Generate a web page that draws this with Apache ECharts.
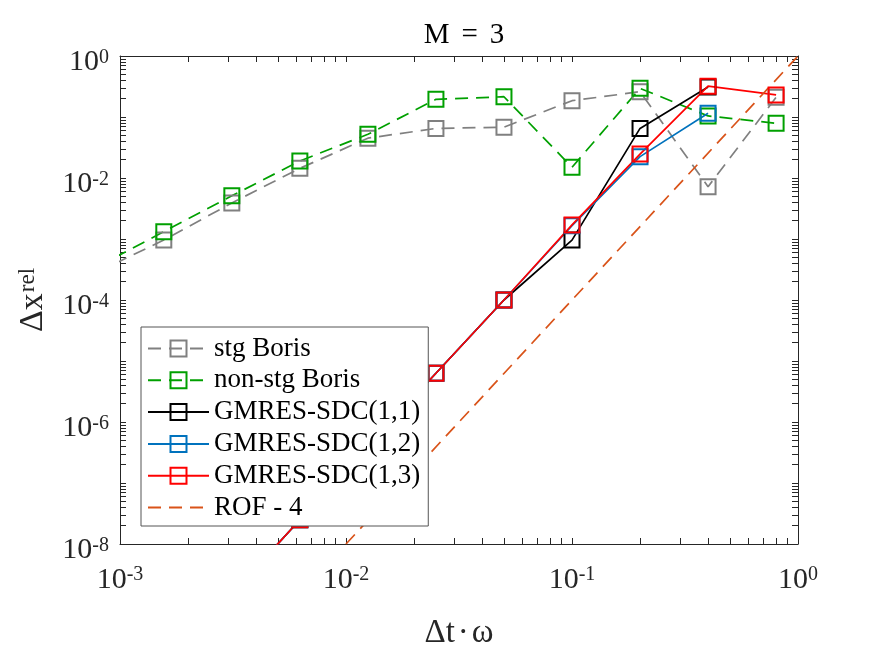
<!DOCTYPE html>
<html lang="en">
<head>
  <meta charset="UTF-8" />
  <title>M = 3</title>
  <script src="https://cdn.jsdelivr.net/npm/echarts@6/dist/echarts.min.js"></script>
  <style>
    html, body { margin: 0; padding: 0; background: #fff; }
    #chart { width: 875px; height: 657px; }
  </style>
</head>
<body>
  <div id="chart"></div>
  <script>
    // step sizes (dt * omega)
    const dtBoris = [0.00078125, 0.0015625, 0.003125, 0.00625, 0.0125, 0.025, 0.05, 0.1, 0.2, 0.4, 0.8];
    const dtSdc = [0.003125, 0.00625, 0.0125, 0.025, 0.05, 0.1, 0.2, 0.4];
    const dtSdc3 = [0.003125, 0.00625, 0.0125, 0.025, 0.05, 0.1, 0.2, 0.4, 0.8];
    const dtRof = [0.01, 0.1, 1];

    // relative position error
    const errStg    = [2.8e-4, 9.6e-4, 3.9e-3, 1.44e-2, 4.5e-2, 6.5e-2, 6.8e-2, 0.185, 0.26, 0.0072, 0.21];
    const errNonStg = [3.4e-4, 1.32e-3, 5.1e-3, 1.9e-2, 5.2e-2, 0.195, 0.215, 0.015, 0.295, 0.104, 0.079];
    const errSdc11  = [1.5e-9, 2.5e-8, 4e-7, 6.3e-6, 1.0e-4, 9.6e-4, 0.065, 0.31];
    const errSdc12  = [1.5e-9, 2.5e-8, 4e-7, 6.3e-6, 1.0e-4, 1.65e-3, 0.0224, 0.115];
    const errSdc13  = [1.5e-9, 2.5e-8, 4e-7, 6.3e-6, 1.0e-4, 1.7e-3, 0.0247, 0.32, 0.23];
    const errRof    = [1e-8, 1e-4, 1];

    // axis ticks
    const xMajor = [1e-3, 1e-2, 1e-1, 1];
    const yMajor = [1e-8, 1e-6, 1e-4, 1e-2, 1];
    const mult = [1, 2, 3, 4, 5, 6, 7, 8, 9];
    function logTicks(lo, hi) {
      const out = [];
      for (let e = lo; e < hi; e++) mult.forEach(m => out.push(m * Math.pow(10, e)));
      out.push(Math.pow(10, hi));
      return out;
    }
    const xTicks = logTicks(-3, 0);
    const yTicks = logTicks(-8, 0);

    const FONT = '"Liberation Serif", "DejaVu Serif", serif';
    const AXC = '#262626';

    const pow10 = v => '{b|10}{e|' + Math.round(Math.log10(v)) + '}';
    const supRich = {
      b: { fontFamily: FONT, fontSize: 30, lineHeight: 30, color: AXC, verticalAlign: 'bottom' },
      e: { fontFamily: FONT, fontSize: 20, lineHeight: 20, color: AXC, verticalAlign: 'top', padding: [0, 0, 17, 0] }
    };

    function logAxis(kind, pos, min, max, ticks, major, withLabels) {
      const ax = {
        type: 'log', logBase: 10, min: min, max: max, position: pos,
        axisLine: { show: true, onZero: false, lineStyle: { color: AXC, width: 1 } },
        axisTick: { show: true, inside: true, length: 6, customValues: ticks, lineStyle: { color: AXC, width: 1 } },
        minorTick: { show: false },
        splitLine: { show: false },
        axisLabel: { show: false }
      };
      if (withLabels) {
        ax.axisLabel = {
          show: true, customValues: major, formatter: pow10, rich: supRich,
          margin: kind === 'x' ? 21 : 11,
          padding: kind === 'x' ? 0 : [13, 0, 0, 0],
          fontFamily: FONT, fontSize: 30, color: AXC
        };
      }
      return ax;
    }

    const xBottom = logAxis('x', 'bottom', 1e-3, 1, xTicks, xMajor, true);
    xBottom.name = '{a|Δt}{d|·}{a|ω}';
    xBottom.nameLocation = 'middle';
    xBottom.nameGap = 73;
    xBottom.nameMoveOverlap = false;
    xBottom.nameTextStyle = {
      fontFamily: FONT, fontSize: 33, color: AXC,
      rich: {
        a: { fontFamily: FONT, fontSize: 33, color: AXC },
        d: { fontFamily: FONT, fontSize: 33, color: AXC, padding: [0, 3, 0, 3] }
      }
    };

    const yLeft = logAxis('y', 'left', 1e-8, 1, yTicks, yMajor, true);
    yLeft.name = '{b|Δx}{e|rel}';
    yLeft.nameLocation = 'middle';
    yLeft.nameRotate = 90;
    yLeft.nameGap = 70;
    yLeft.nameMoveOverlap = false;
    yLeft.nameTextStyle = {
      fontFamily: FONT, fontSize: 34, color: AXC,
      rich: {
        b: { fontFamily: FONT, fontSize: 34, lineHeight: 34, color: AXC, verticalAlign: 'bottom' },
        e: { fontFamily: FONT, fontSize: 23, lineHeight: 23, color: AXC, verticalAlign: 'top', padding: [0, 0, 16, 1] }
      }
    };

    function mk(name, xs, ys, color, dashed, marker) {
      return {
        name: name, type: 'line',
        xAxisIndex: 0, yAxisIndex: 0,
        data: xs.map((x, i) => [x, ys[i]]),
        color: color,
        symbol: marker ? 'rect' : 'none',
        symbolSize: 15,
        showAllSymbol: true,
        lineStyle: { color: color, width: 1.7, type: dashed ? [13, 8] : 'solid' },
        itemStyle: { color: 'rgba(255,255,255,0)', borderColor: color, borderWidth: 2 },
        emphasis: { disabled: true },
        clip: true,
        z: 2
      };
    }

    const legendNames = ['stg Boris', 'non-stg Boris', 'GMRES-SDC(1,1)', 'GMRES-SDC(1,2)', 'GMRES-SDC(1,3)', 'ROF - 4'];

    const chart = echarts.init(document.getElementById('chart'), null, { renderer: 'canvas' });
    chart.setOption({
      animation: false,
      backgroundColor: '#fff',
      title: {
        text: '{m|M}{q|=}{m|3}', left: 459, top: 16, textAlign: 'center',
        textStyle: {
          fontFamily: FONT, fontSize: 29, fontWeight: 'normal', color: '#000',
          rich: {
            m: { fontFamily: FONT, fontSize: 29, color: '#000' },
            q: { fontFamily: FONT, fontSize: 29, color: '#000', padding: [0, 12, 0, 12] }
          }
        }
      },
      grid: { left: 120, right: 77, top: 56, bottom: 113, containLabel: false, outerBoundsMode: 'none' },
      xAxis: [
        xBottom,
        logAxis('x', 'top', 1e-3, 1, xTicks, xMajor, false)
      ],
      yAxis: [
        yLeft,
        logAxis('y', 'right', 1e-8, 1, yTicks, yMajor, false)
      ],
      legend: {
        orient: 'vertical', left: 141, top: 327,
        padding: [8, 8, 5, 6],
        itemWidth: 61, itemHeight: 20, itemGap: 4.8,
        backgroundColor: '#fff', borderColor: '#555', borderWidth: 1, borderRadius: 0,
        selectedMode: false,
        textStyle: { fontFamily: FONT, fontSize: 27, lineHeight: 24, color: '#000' },
        data: legendNames.map(n => n === 'ROF - 4'
          ? { name: n, itemStyle: { color: 'rgba(0,0,0,0)', borderColor: 'rgba(0,0,0,0)', borderWidth: 0, opacity: 0 } }
          : { name: n }),
        z: 10
      },
      series: [
        mk('stg Boris', dtBoris, errStg, '#808080', true, true),
        mk('non-stg Boris', dtBoris, errNonStg, '#00A000', true, true),
        mk('GMRES-SDC(1,1)', dtSdc, errSdc11, '#000000', false, true),
        mk('GMRES-SDC(1,2)', dtSdc, errSdc12, '#0072BD', false, true),
        mk('GMRES-SDC(1,3)', dtSdc3, errSdc13, '#FF0000', false, true),
        mk('ROF - 4', dtRof, errRof, '#D95319', true, false)
      ]
    });
  </script>
</body>
</html>
